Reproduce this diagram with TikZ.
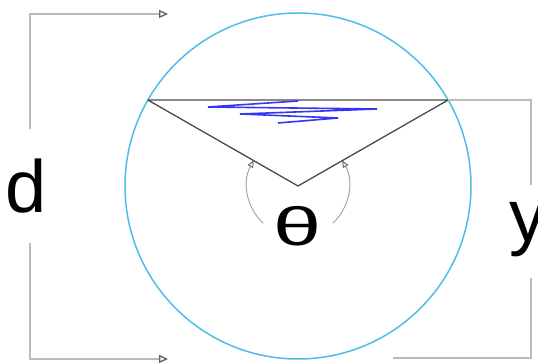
\documentclass[tikz,border=0pt]{standalone}
\usepackage{fontspec}
\setmainfont{Liberation Sans}
\usetikzlibrary{arrows.meta,calc}
\definecolor{ChordInk}{HTML}{4A4A4A}
\definecolor{ChordSky}{HTML}{4FBDE6}
\definecolor{ChordLine}{HTML}{BBBBBB}
\definecolor{ChordTip}{HTML}{606060}
\definecolor{ChordBlue}{HTML}{3535F2}

\begin{document}
\begin{tikzpicture}[
    x=1pt,
    y=1pt,
    ring/.style={draw=ChordSky, line width=1.5pt},
    edge/.style={draw=ChordInk, line width=1.3pt, line join=round},
    bracket/.style={draw=ChordLine, line width=1.3pt},
    pointer/.style={bracket, -{Triangle[open, length=9pt, width=8pt, fill=white, color=ChordTip]}},
    swing/.style={draw=ChordLine!85!black, line width=0.9pt, -{Triangle[open, length=7pt, width=6pt, fill=white, color=ChordTip]}},
    scrawl/.style={draw=ChordBlue, line width=1.6pt, line join=bevel},
    letter/.style={font=\fontsize{74}{80}\selectfont, inner sep=0pt, anchor=base}
  ]
    \useasboundingbox (0,0) rectangle (538,363);

    \coordinate (centre) at (298,177);
    \coordinate (left) at ($(centre)+(150.2:173)$);
    \coordinate (right) at ($(centre)+(29.8:173)$);
    \coordinate (dtop) at (30,234);
    \coordinate (dtoparrow) at (168,349);
    \coordinate (dbot) at (30,120);
    \coordinate (dbotarrow) at (168,4);
    \coordinate (ytop) at (531,178);
    \coordinate (ybot) at (531,85);
    \coordinate (yend) at (393,5);
    \coordinate (leftswing) at ($(centre)+(227:51)$);
    \coordinate (rightswing) at ($(centre)+(-47:51)$);

    \node[letter] (dlabel) at (26,150) {d};
    \node[letter] (ylabel) at (528,121) {y};
    \node[letter, font=\fontsize{54}{60}\selectfont] (theta) at (298,117) {\scalebox{1.6}[1]{θ}};

    \draw[ring] (centre) circle[radius=173];
    \draw[edge] (left) -- (centre) -- (right) -- cycle;
    \draw[scrawl] (298,262) -- (208,256) -- (377,254) -- (240,249) -- (338,245) -- (278,240);

    \draw[swing] (leftswing) arc[start angle=227, end angle=150, radius=51];
    \draw[swing] (rightswing) arc[start angle=-47, end angle=30, radius=51];

    \draw[pointer] (dtop) |- (dtoparrow);
    \draw[pointer] (dbot) |- (dbotarrow);
    \draw[bracket] (right) -| (ytop);
    \draw[bracket] (ybot) |- (yend);
  \end{tikzpicture}
\end{document}
